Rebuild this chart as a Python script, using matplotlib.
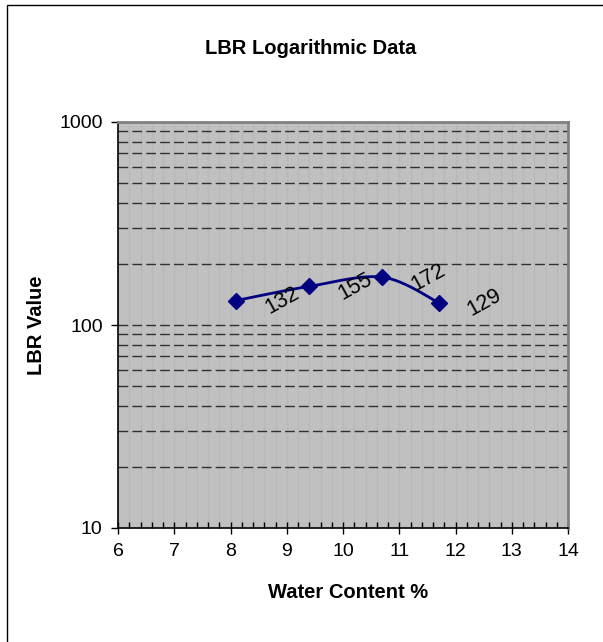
import numpy as np
import matplotlib
matplotlib.use("Agg")
import matplotlib.pyplot as plt
from matplotlib.ticker import FixedLocator, NullFormatter, MultipleLocator
from matplotlib.patches import Rectangle

plt.rcParams['font.family'] = ['Liberation Sans', 'DejaVu Sans']

water = [8.1, 9.4, 10.7, 11.7]
lbr = [132, 155, 172, 129]
labels = ["132", "155", "172", "129"]
title = "LBR Logarithmic Data"
xlabel = "Water Content %"
ylabel = "LBR Value"

W, H = 603, 642
fig = plt.figure(figsize=(W / 100, H / 100), dpi=100)
fig.patches.append(Rectangle((7 / W, -0.05), 1.2, (H - 5) / H + 0.05, transform=fig.transFigure,
                             fill=False, edgecolor='black', linewidth=1.0))

ax = fig.add_axes([118 / W, (H - 528) / H, 450 / W, 406 / H])
ax.set_facecolor('#C0C0C0')
ax.set_xlim(6, 14)
ax.set_yscale('log')
ax.set_ylim(10, 1000)

# vertical minor grid
for xv in np.arange(6.2, 14.0, 0.2):
    ax.axvline(xv, color='#B8B8B8', linewidth=1.0, zorder=0.5)
# horizontal dashed grid
for dec in [10, 100]:
    for m in range(1, 10):
        yv = dec * m
        if 10 < yv < 1000:
            ax.axhline(yv, color='#303030', linewidth=1.0, dashes=(7, 3), zorder=0.6)

# smooth curve (Bezier through points, Excel-like smoothing)
px = np.array(water, float)
py = np.log10(np.array(lbr, float))
pts = np.column_stack([px, py])
ext = np.vstack([pts[0], pts, pts[-1]])
curve = []
t = np.linspace(0, 1, 40)
for i in range(1, len(ext) - 2):
    p0, p1, p2, p3 = ext[i - 1], ext[i], ext[i + 1], ext[i + 2]
    c1 = p1 + (p2 - p0) / 6.0
    c2 = p2 - (p3 - p1) / 6.0
    seg = ((1 - t) ** 3)[:, None] * p1 + (3 * (1 - t) ** 2 * t)[:, None] * c1 + \
          (3 * (1 - t) * t ** 2)[:, None] * c2 + (t ** 3)[:, None] * p2
    curve.append(seg)
curve = np.vstack(curve)
ax.plot(curve[:, 0], 10 ** curve[:, 1], color='#000080', linewidth=2, zorder=3)
ax.plot(water, lbr, linestyle='none', marker='D', markersize=8.5, color='#000080', zorder=4)

for xv, yv, lab in zip(water, lbr, labels):
    ax.annotate(lab, (xv, yv), xytext=(33, 0), textcoords='offset points',
                ha='center', va='center', rotation=29, fontsize=15.5, zorder=5)

ax.yaxis.set_major_locator(FixedLocator([10, 100, 1000]))
ax.yaxis.set_minor_locator(FixedLocator([]))
ax.yaxis.set_minor_formatter(NullFormatter())
ax.set_yticklabels(["10", "100", "1000"])
ax.xaxis.set_major_locator(MultipleLocator(1))
ax.xaxis.set_minor_locator(MultipleLocator(0.2))
ax.tick_params(axis='x', which='major', direction='inout', length=8, width=1, labelsize=14, pad=7)
ax.tick_params(axis='x', which='minor', direction='in', length=4, width=1)
ax.tick_params(axis='y', which='major', direction='out', length=5, width=1, labelsize=14, pad=6)

for s in ['left', 'bottom']:
    ax.spines[s].set_color('black')
    ax.spines[s].set_linewidth(1.2)
for s in ['right', 'top']:
    ax.spines[s].set_color('#808080')
    ax.spines[s].set_linewidth(2)

fig.text(311 / W, 1 - 48 / H, title, ha='center', va='center', fontsize=14.5, fontweight='bold')
fig.text(348 / W, 1 - 592 / H, xlabel, ha='center', va='center', fontsize=14.5, fontweight='bold')
fig.text(37 / W, 1 - 325 / H, ylabel, ha='center', va='center', rotation=90, fontsize=14.5, fontweight='bold')

fig.savefig("out.png", dpi=100)
